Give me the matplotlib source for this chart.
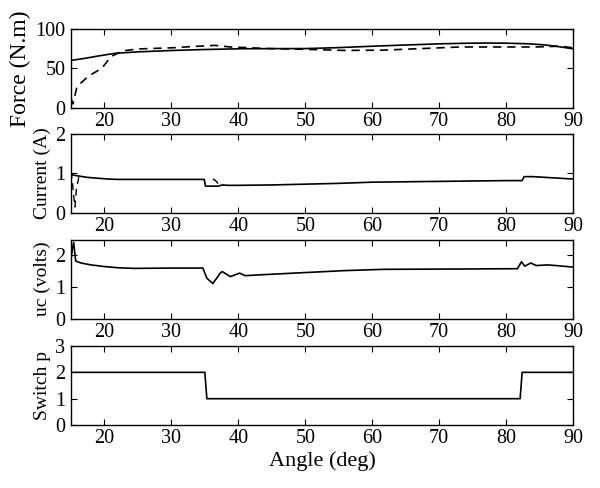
import matplotlib.pyplot as plt

plt.rcParams['font.family'] = ['Liberation Serif', 'DejaVu Serif']

# Force (N.m): measured (solid) and reference (dashed)
force_x = [15, 17, 19, 21.6, 25, 30.2, 35, 40.2, 45, 50.2, 55, 60.2, 65, 70.2, 74, 77.1, 80, 83.4, 85.5, 87.4, 90]
force_val = [60, 62.5, 65.5, 69, 70.8, 72.6, 73.8, 74.7, 74.9, 75, 76.2, 78, 79.5, 81, 81.7, 82, 81.8, 81, 79.8, 78, 74.7]
force_ref_x = [15, 15.3, 15.9, 17.6, 19.6, 21, 22.7, 25, 30.2, 33, 36.5, 38.8, 44.5, 50.2, 55.9, 61.7, 67.4, 73.1, 78.8, 84.5, 88, 90]
force_ref_val = [12, 5, 27, 40, 50, 65, 72, 74.5, 76, 77.5, 79, 77, 75, 74, 72.6, 73, 75, 77, 77, 77, 78, 76]

# Current (A)
cur_x = [15, 16, 17.5, 19, 20.5, 22, 28, 34.9, 35.1, 37, 37.6, 38.5, 40, 45, 50, 55, 60, 65, 70, 75, 80, 82.4, 82.7, 84, 86, 88, 90]
cur_val = [0.97, 0.94, 0.9, 0.88, 0.86, 0.85, 0.85, 0.85, 0.68, 0.68, 0.71, 0.70, 0.70, 0.71, 0.73, 0.75, 0.78, 0.79, 0.80, 0.81, 0.82, 0.82, 0.92, 0.92, 0.90, 0.88, 0.86]
cur_ref_x = [15, 15.2, 15.4, 15.6, 15.8, 16.2]
cur_ref_val = [1.05, 0.8, 0.45, 0.15, 0.6, 0.93]
cur_ref2_x = [36.2, 36.6, 37.0, 37.4]
cur_ref2_val = [0.86, 0.82, 0.74, 0.69]

# uc (volts)
uc_x = [15, 15.2, 15.4, 15.7, 16.5, 18, 19.9, 22, 24.4, 30, 34.7, 35.3, 36.2, 37.3, 37.6, 38.8, 40.2, 41, 44.5, 50.2, 55.9, 61.7, 73, 81.7, 82.3, 82.8, 83.7, 84.5, 86.2, 88, 90]
uc_val = [1.85, 2.2, 2.41, 1.82, 1.76, 1.7, 1.65, 1.61, 1.59, 1.6, 1.6, 1.28, 1.11, 1.44, 1.49, 1.33, 1.44, 1.36, 1.4, 1.46, 1.52, 1.56, 1.57, 1.58, 1.8, 1.66, 1.76, 1.68, 1.7, 1.67, 1.63]

# Switch position
sw_x = [15, 35, 35.3, 82.1, 82.4, 90]
sw_val = [2, 2, 1, 1, 2, 2]

fig = plt.figure(figsize=(6, 4.88), dpi=100)
left, width, height = 0.1183, 0.8367, 0.162
bottoms = [0.779, 0.5635, 0.347, 0.129]
axes = [fig.add_axes([left, b, width, height]) for b in bottoms]

lw = 1.2
dash = (5, 3.5)
axes[0].plot(force_ref_x, force_ref_val, 'k--', lw=lw, dashes=dash)
axes[0].plot(force_x, force_val, 'k-', lw=lw)
axes[1].plot(cur_ref_x, cur_ref_val, 'k--', lw=1.0, dashes=dash)
axes[1].plot(cur_ref2_x, cur_ref2_val, 'k--', lw=1.0, dashes=dash)
axes[1].plot(cur_x, cur_val, 'k-', lw=lw)
axes[2].plot(uc_x, uc_val, 'k-', lw=lw)
axes[3].plot(sw_x, sw_val, 'k-', lw=lw)

ylims = [(0, 100), (0, 2), (0, 2.5), (0, 3)]
yticks = [[0, 50, 100], [0, 1, 2], [0, 1, 2], [0, 1, 2, 3]]
ylabels = ['Force (N.m)', 'Current (A)', 'uc (volts)', 'Switch p']
ysizes = [17, 14, 14, 14]

for ax, yl, yt, lab, fs in zip(axes, ylims, yticks, ylabels, ysizes):
    ax.set_xlim(15, 90)
    ax.set_ylim(*yl)
    ax.set_xticks(range(20, 91, 10))
    ax.set_yticks(yt)
    ax.tick_params(direction='in', top=True, right=True, labelsize=14.5, length=4)
    ax.tick_params(axis='x', pad=3)
    ax.tick_params(axis='y', pad=4)
    ax.set_ylabel(lab, fontsize=fs, labelpad=3)
    for s in ax.spines.values():
        s.set_linewidth(1.0)

axes[3].set_xlabel('Angle (deg)', fontsize=16, labelpad=2)

fig.savefig('out.png', dpi=100)
